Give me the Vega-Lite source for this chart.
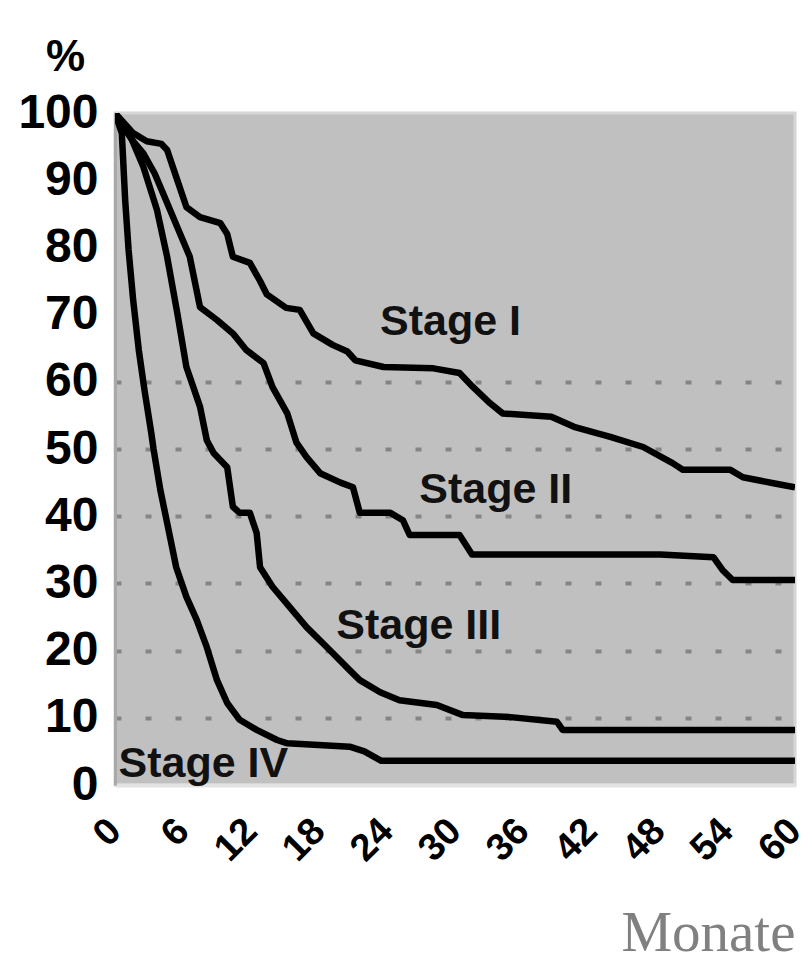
{
  "$schema": "https://vega.github.io/schema/vega-lite/v6.json",
  "width": 680,
  "height": 672,
  "autosize": {"type": "none"},
  "padding": {"left": 115, "top": 113, "right": 16, "bottom": 178},
  "background": "white",
  "config": {
    "view": {"fill": "#c0c0c0", "stroke": "#d6d6d6", "strokeWidth": 3},
    "font": "Liberation Sans"
  },
  "datasets": {
    "curves": [
      {"stage": "Stage I", "m": 0, "v": 100},
      {"stage": "Stage I", "m": 1.6, "v": 97},
      {"stage": "Stage I", "m": 2.8, "v": 95.8},
      {"stage": "Stage I", "m": 4.1, "v": 95.4},
      {"stage": "Stage I", "m": 4.6, "v": 94.5},
      {"stage": "Stage I", "m": 5.4, "v": 90.5},
      {"stage": "Stage I", "m": 6.3, "v": 86},
      {"stage": "Stage I", "m": 7.5, "v": 84.5},
      {"stage": "Stage I", "m": 9.3, "v": 83.6},
      {"stage": "Stage I", "m": 9.9, "v": 82},
      {"stage": "Stage I", "m": 10.4, "v": 78.6},
      {"stage": "Stage I", "m": 11.9, "v": 77.7},
      {"stage": "Stage I", "m": 12.8, "v": 75},
      {"stage": "Stage I", "m": 13.4, "v": 73},
      {"stage": "Stage I", "m": 15.1, "v": 71},
      {"stage": "Stage I", "m": 16.3, "v": 70.7},
      {"stage": "Stage I", "m": 17.5, "v": 67.2},
      {"stage": "Stage I", "m": 19.2, "v": 65.5},
      {"stage": "Stage I", "m": 20.5, "v": 64.5},
      {"stage": "Stage I", "m": 21.2, "v": 63.2},
      {"stage": "Stage I", "m": 23.7, "v": 62.2},
      {"stage": "Stage I", "m": 28.1, "v": 62},
      {"stage": "Stage I", "m": 30.4, "v": 61.3},
      {"stage": "Stage I", "m": 31.6, "v": 59.2},
      {"stage": "Stage I", "m": 33.1, "v": 56.8},
      {"stage": "Stage I", "m": 34.2, "v": 55.3},
      {"stage": "Stage I", "m": 38.5, "v": 54.8},
      {"stage": "Stage I", "m": 40.5, "v": 53.3},
      {"stage": "Stage I", "m": 43.7, "v": 51.8},
      {"stage": "Stage I", "m": 46.6, "v": 50.3},
      {"stage": "Stage I", "m": 49.2, "v": 47.9},
      {"stage": "Stage I", "m": 50.1, "v": 46.9},
      {"stage": "Stage I", "m": 54.3, "v": 46.9},
      {"stage": "Stage I", "m": 55.4, "v": 45.8},
      {"stage": "Stage I", "m": 58.1, "v": 44.9},
      {"stage": "Stage I", "m": 60, "v": 44.3},

      {"stage": "Stage II", "m": 0, "v": 100},
      {"stage": "Stage II", "m": 1.5, "v": 96},
      {"stage": "Stage II", "m": 2.5, "v": 94},
      {"stage": "Stage II", "m": 3.5, "v": 91},
      {"stage": "Stage II", "m": 4.5, "v": 87},
      {"stage": "Stage II", "m": 5.5, "v": 83},
      {"stage": "Stage II", "m": 6.6, "v": 78.6},
      {"stage": "Stage II", "m": 7.5, "v": 71.1},
      {"stage": "Stage II", "m": 9, "v": 69.2},
      {"stage": "Stage II", "m": 10.4, "v": 67.2},
      {"stage": "Stage II", "m": 11.6, "v": 64.7},
      {"stage": "Stage II", "m": 13.1, "v": 62.8},
      {"stage": "Stage II", "m": 13.9, "v": 59.2},
      {"stage": "Stage II", "m": 15.2, "v": 55.3},
      {"stage": "Stage II", "m": 16, "v": 51},
      {"stage": "Stage II", "m": 16.9, "v": 48.8},
      {"stage": "Stage II", "m": 18.1, "v": 46.4},
      {"stage": "Stage II", "m": 19.9, "v": 45},
      {"stage": "Stage II", "m": 21, "v": 44.3},
      {"stage": "Stage II", "m": 21.6, "v": 40.5},
      {"stage": "Stage II", "m": 24.3, "v": 40.5},
      {"stage": "Stage II", "m": 25.4, "v": 39.4},
      {"stage": "Stage II", "m": 26, "v": 37.2},
      {"stage": "Stage II", "m": 30.4, "v": 37.2},
      {"stage": "Stage II", "m": 31.5, "v": 34.3},
      {"stage": "Stage II", "m": 48.1, "v": 34.3},
      {"stage": "Stage II", "m": 52.8, "v": 33.9},
      {"stage": "Stage II", "m": 53.6, "v": 32},
      {"stage": "Stage II", "m": 54.5, "v": 30.5},
      {"stage": "Stage II", "m": 60, "v": 30.5},

      {"stage": "Stage III", "m": 0, "v": 100},
      {"stage": "Stage III", "m": 1.5, "v": 96},
      {"stage": "Stage III", "m": 2.5, "v": 92},
      {"stage": "Stage III", "m": 3.7, "v": 85.6},
      {"stage": "Stage III", "m": 4.6, "v": 78.6},
      {"stage": "Stage III", "m": 5.5, "v": 70.2},
      {"stage": "Stage III", "m": 6.3, "v": 62.2},
      {"stage": "Stage III", "m": 7.5, "v": 56.3},
      {"stage": "Stage III", "m": 8.1, "v": 51.3},
      {"stage": "Stage III", "m": 8.7, "v": 49.4},
      {"stage": "Stage III", "m": 9.9, "v": 47.3},
      {"stage": "Stage III", "m": 10.4, "v": 41.4},
      {"stage": "Stage III", "m": 11, "v": 40.5},
      {"stage": "Stage III", "m": 11.9, "v": 40.5},
      {"stage": "Stage III", "m": 12.5, "v": 37.5},
      {"stage": "Stage III", "m": 12.8, "v": 32.4},
      {"stage": "Stage III", "m": 13.9, "v": 29.5},
      {"stage": "Stage III", "m": 15.4, "v": 26.5},
      {"stage": "Stage III", "m": 16.9, "v": 23.5},
      {"stage": "Stage III", "m": 18.7, "v": 20.5},
      {"stage": "Stage III", "m": 20.7, "v": 17.1},
      {"stage": "Stage III", "m": 21.6, "v": 15.6},
      {"stage": "Stage III", "m": 23.4, "v": 13.8},
      {"stage": "Stage III", "m": 25.1, "v": 12.6},
      {"stage": "Stage III", "m": 28.4, "v": 11.9},
      {"stage": "Stage III", "m": 30.7, "v": 10.4},
      {"stage": "Stage III", "m": 34.9, "v": 10.1},
      {"stage": "Stage III", "m": 39, "v": 9.4},
      {"stage": "Stage III", "m": 39.5, "v": 8.2},
      {"stage": "Stage III", "m": 60, "v": 8.2},

      {"stage": "Stage IV", "m": 0, "v": 100},
      {"stage": "Stage IV", "m": 0.6, "v": 97},
      {"stage": "Stage IV", "m": 0.9, "v": 87},
      {"stage": "Stage IV", "m": 1.2, "v": 79.6},
      {"stage": "Stage IV", "m": 1.6, "v": 72.2},
      {"stage": "Stage IV", "m": 2.1, "v": 64.7},
      {"stage": "Stage IV", "m": 2.6, "v": 58.8},
      {"stage": "Stage IV", "m": 3.2, "v": 52.4},
      {"stage": "Stage IV", "m": 3.4, "v": 50},
      {"stage": "Stage IV", "m": 4, "v": 43.9},
      {"stage": "Stage IV", "m": 4.6, "v": 39},
      {"stage": "Stage IV", "m": 5.4, "v": 32.4},
      {"stage": "Stage IV", "m": 6.3, "v": 28},
      {"stage": "Stage IV", "m": 7.2, "v": 24.6},
      {"stage": "Stage IV", "m": 8.1, "v": 20.5},
      {"stage": "Stage IV", "m": 9, "v": 15.6},
      {"stage": "Stage IV", "m": 9.9, "v": 12.2},
      {"stage": "Stage IV", "m": 11, "v": 9.7},
      {"stage": "Stage IV", "m": 12.5, "v": 8.2},
      {"stage": "Stage IV", "m": 14.3, "v": 6.7},
      {"stage": "Stage IV", "m": 15.2, "v": 6.2},
      {"stage": "Stage IV", "m": 20.7, "v": 5.7},
      {"stage": "Stage IV", "m": 22, "v": 5},
      {"stage": "Stage IV", "m": 23.5, "v": 3.6},
      {"stage": "Stage IV", "m": 60, "v": 3.6}
    ],
    "labels": [
      {"label": "Stage I", "m": 29.6, "v": 67.0},
      {"label": "Stage II", "m": 33.6, "v": 42.0},
      {"label": "Stage III", "m": 26.8, "v": 21.7},
      {"label": "Stage IV", "m": 7.8, "v": 1.2}
    ]
  },
  "layer": [
    {
      "data": {"name": "curves"},
      "mark": {"type": "line", "color": "black", "strokeWidth": 6.5, "strokeJoin": "round", "clip": true},
      "encoding": {
        "x": {
          "field": "m",
          "type": "quantitative",
          "scale": {"domain": [0, 60], "nice": false, "zero": false},
          "axis": {
            "values": [0, 6, 12, 18, 24, 30, 36, 42, 48, 54, 60],
            "title": "Monate",
            "titleFont": "Liberation Serif",
            "titleFontSize": 57,
            "titleFontWeight": "normal",
            "titleColor": "#808080",
            "titleAnchor": "end",
            "titleAlign": "right",
            "titleX": 680,
            "titleY": 165,
            "titleBaseline": "alphabetic",
            "labelAngle": -45,
            "labelAlign": "right",
            "labelBaseline": "middle",
            "labelFontSize": 38,
            "labelFontWeight": "bold",
            "labelColor": "black",
            "labelPadding": 40,
            "labelOverlap": false,
            "labelFlush": false,
            "ticks": false,
            "grid": false,
            "domain": true,
            "domainColor": "#e2e2e2",
            "domainWidth": 4
          }
        },
        "y": {
          "field": "v",
          "type": "quantitative",
          "scale": {"domain": [0, 100], "nice": false},
          "axis": {
            "values": [0, 10, 20, 30, 40, 50, 60, 70, 80, 90, 100],
            "title": "%",
            "titleAngle": 0,
            "titleX": -50,
            "titleY": -43,
            "titleAlign": "center",
            "titleBaseline": "alphabetic",
            "titleFontSize": 44,
            "titleFontWeight": "bold",
            "titleColor": "black",
            "labelFontSize": 48,
            "labelFontWeight": "bold",
            "labelColor": "black",
            "labelPadding": 17,
            "labelBaseline": "middle",
            "labelFlush": false,
            "labelOverlap": false,
            "ticks": false,
            "domain": true,
            "domainColor": "#a9a9a9",
            "domainWidth": 3,
            "grid": true,
            "gridColor": "#858585",
            "gridWidth": 4,
            "gridDash": [6, 24],
            "gridOpacity": {"condition": {"test": "datum.value > 0 && datum.value <= 60", "value": 1}, "value": 0}
          }
        },
        "detail": {"field": "stage", "type": "nominal"}
      }
    },
    {
      "data": {"name": "labels"},
      "mark": {"type": "text", "font": "Liberation Sans", "fontSize": 43, "fontWeight": "bold", "color": "#111111", "align": "center", "baseline": "alphabetic"},
      "encoding": {
        "x": {"field": "m", "type": "quantitative"},
        "y": {"field": "v", "type": "quantitative"},
        "text": {"field": "label"}
      }
    }
  ]
}
